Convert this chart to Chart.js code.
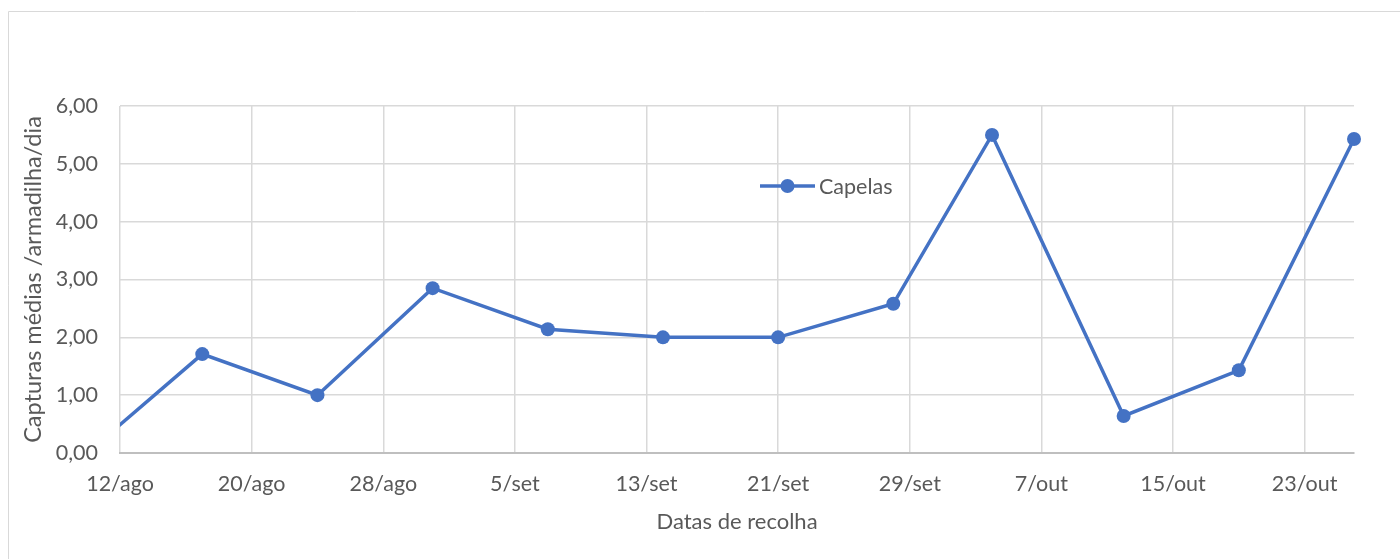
<!DOCTYPE html>
<html><head><meta charset="utf-8">
<script src="https://cdn.jsdelivr.net/npm/chart.js@4/dist/chart.umd.min.js"></script>
<style>html,body{margin:0;padding:0;background:#fff;overflow:hidden}#wrap{width:1400px;height:559px;position:relative}</style>
</head><body><div id="wrap"><canvas id="c" width="1400" height="559"></canvas></div>
<script>
// Day offsets from 12/ago for each collection date
const dateLabels = ['10/ago','17/ago','24/ago','31/ago','7/set','14/set','21/set','28/set','4/out','12/out','19/out','26/out'];
const dayOffsets = [-2, 5, 12, 19, 26, 33, 40, 47, 53, 61, 68, 75];
const capelas = [0.00, 1.71, 1.00, 2.85, 2.14, 2.00, 2.00, 2.58, 5.50, 0.64, 1.43, 5.43];
const xTickDays = [0, 8, 16, 24, 32, 40, 48, 56, 64, 72];
const xTickLabels = ['12/ago','20/ago','28/ago','5/set','13/set','21/set','29/set','7/out','15/out','23/out'];
const yTicks = [0, 1, 2, 3, 4, 5, 6];
const seriesName = 'Capelas';

const BLUE = '#4472c4', TXT = '#595959', GRID = '#d9d9d9';
const FONT = 'Lato, "Open Sans", sans-serif';

const borderPlugin = {
  id: 'outerBorder',
  beforeDraw(chart) {
    const ctx = chart.ctx;
    ctx.save();
    ctx.strokeStyle = '#d9d9d9';
    ctx.lineWidth = 1;
    ctx.beginPath();
    ctx.moveTo(8.5, 570); ctx.lineTo(8.5, 11.5); ctx.lineTo(1410, 11.5);
    ctx.stroke();
    ctx.restore();
  }
};

const legendPlugin = {
  id: 'innerLegend',
  afterDraw(chart) {
    const ctx = chart.ctx;
    const x0 = 760, y = 186;
    ctx.save();
    ctx.strokeStyle = BLUE; ctx.lineWidth = 3.5;
    ctx.beginPath(); ctx.moveTo(x0, y); ctx.lineTo(x0 + 55, y); ctx.stroke();
    ctx.fillStyle = BLUE;
    ctx.beginPath(); ctx.arc(x0 + 27.5, y, 7, 0, Math.PI * 2); ctx.fill();
    ctx.fillStyle = TXT; ctx.font = '21.5px ' + FONT;
    ctx.textBaseline = 'middle'; ctx.textAlign = 'left';
    ctx.fillText(seriesName, x0 + 59, y + 1);
    ctx.restore();
  }
};

new Chart(document.getElementById('c'), {
  type: 'line',
  data: {
    datasets: [{
      label: seriesName,
      data: dayOffsets.map((d, i) => ({x: d, y: capelas[i]})),
      borderColor: BLUE, backgroundColor: BLUE,
      borderWidth: 3.5, pointRadius: 7, pointHoverRadius: 7,
      pointBackgroundColor: BLUE, pointBorderColor: BLUE, pointBorderWidth: 0,
      tension: 0,
      clip: {left: 0, top: false, right: false, bottom: false}
    }]
  },
  options: {
    responsive: false, animation: false,
    layout: {padding: {left: 0, right: 46, top: 106, bottom: 24}},
    plugins: {legend: {display: false}, tooltip: {enabled: false}},
    scales: {
      x: {
        type: 'linear', min: 0, max: 75,
        afterBuildTicks(axis) { axis.ticks = xTickDays.map(v => ({value: v})); },
        afterFit(axis) { axis.height = 82; },
        ticks: {
          callback: (v) => { const i = xTickDays.indexOf(v); return i >= 0 ? xTickLabels[i] : ''; },
          color: TXT, font: {family: FONT, size: 21.5}, padding: 18, maxRotation: 0, autoSkip: false
        },
        grid: {color: GRID, lineWidth: 1.5, drawTicks: false},
        border: {color: '#bfbfbf', width: 2},
        title: {display: true, text: 'Datas de recolha', color: TXT, font: {family: FONT, size: 22}, padding: {top: 4, bottom: 0}}
      },
      y: {
        min: 0, max: 6,
        afterBuildTicks(axis) { axis.ticks = yTicks.map(v => ({value: v})); },
        afterFit(axis) { axis.width = 120; },
        ticks: {
          callback: (v) => v.toFixed(2).replace('.', ','),
          color: TXT, font: {family: FONT, size: 21.5}, padding: 22
        },
        grid: {color: GRID, lineWidth: 1.5, drawTicks: false},
        border: {display: false},
        title: {display: true, text: 'Capturas médias /armadilha/dia', color: TXT, font: {family: FONT, size: 23.5}, padding: {bottom: 0, top: 19}}
      }
    }
  },
  plugins: [borderPlugin, legendPlugin]
});
</script></body></html>
